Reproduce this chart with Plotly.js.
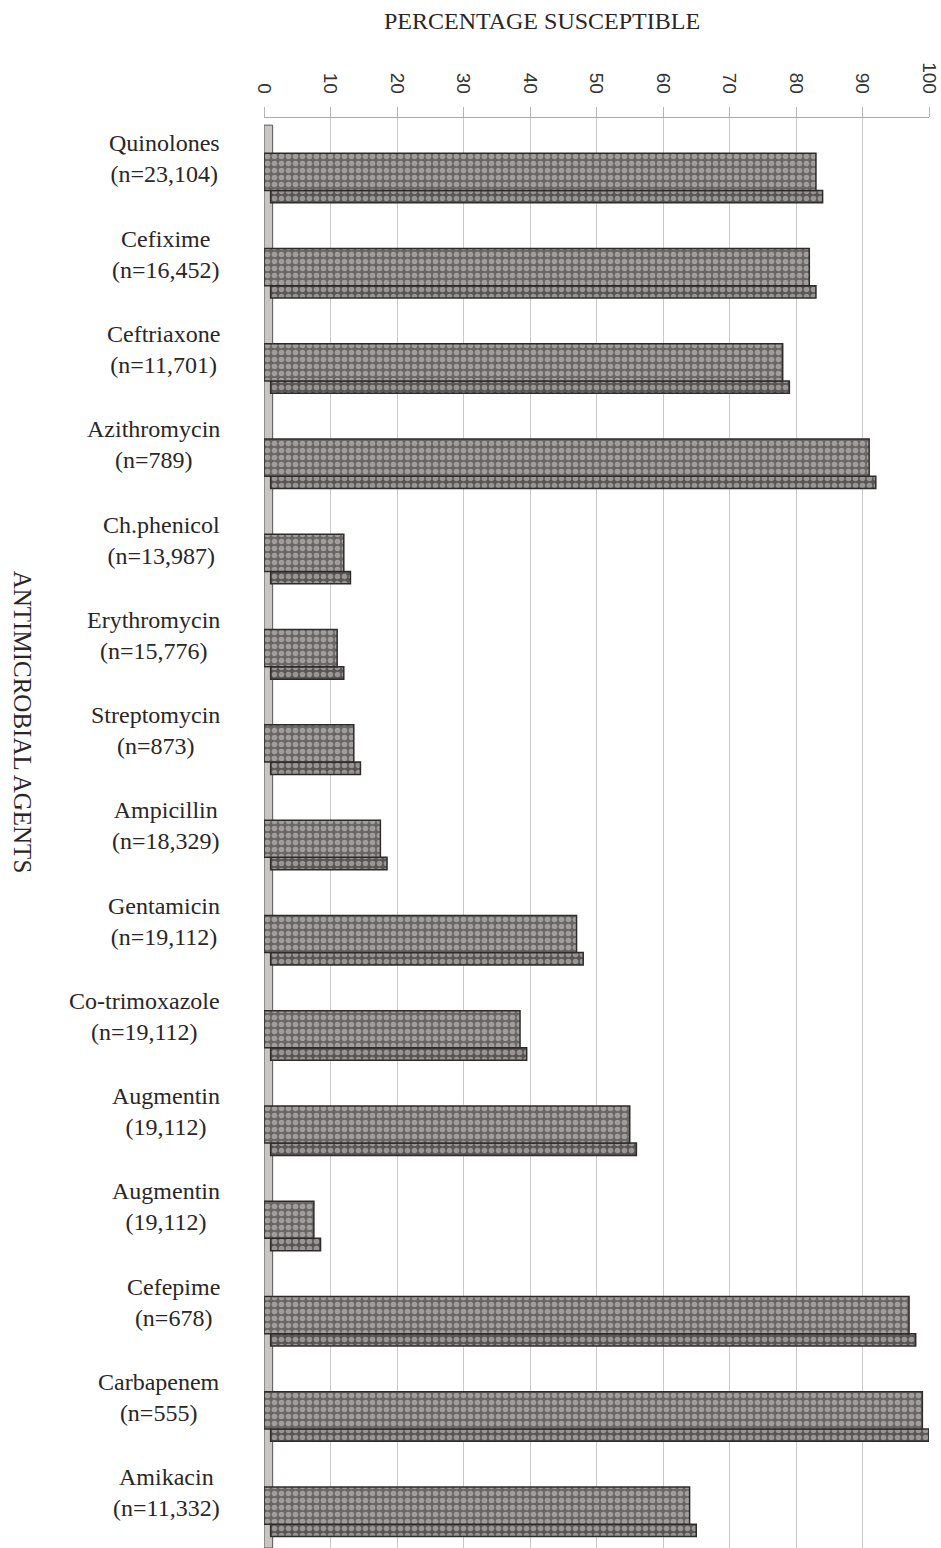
<!DOCTYPE html>
<html>
<head>
<meta charset="utf-8">
<script src="https://cdn.plot.ly/plotly-3.0.1.min.js"></script>
<style>html,body{margin:0;padding:0;background:#fff;}#chart{width:941px;height:1548px;}</style>
</head>
<body>
<div id="chart"></div>
<script>
const agents = ["Quinolones","Cefixime","Ceftriaxone","Azithromycin","Ch.phenicol","Erythromycin","Streptomycin","Ampicillin","Gentamicin","Co-trimoxazole","Augmentin","Augmentin","Cefepime","Carbapenem","Amikacin"];
const counts = ["(n=23,104)","(n=16,452)","(n=11,701)","(n=789)","(n=13,987)","(n=15,776)","(n=873)","(n=18,329)","(n=19,112)","(n=19,112)","(19,112)","(19,112)","(n=678)","(n=555)","(n=11,332)"];
const susceptible = [83,82,78,91,12,11,13.5,17.5,47,38.5,55,7.5,97,99,64];
const xTicks = [0,10,20,30,40,50,60,70,80,90,100];

const idx = agents.map((_, i) => i);
const pat = (bg) => ({shape: ".", bgcolor: bg, fgcolor: "#d9d5d5", size: 7, solidity: 0.5, fillmode: "overlay"});

const front = {
  type: "bar", orientation: "h", x: susceptible, y: idx,
  width: 0.39, offset: -0.26,
  marker: {color: "#6a6565", pattern: pat("#6a6565"), line: {color: "#2f2b2b", width: 1.5}},
  hoverinfo: "x"
};
const depth = {
  type: "bar", orientation: "h", x: susceptible, y: idx, base: 1,
  width: 0.13, offset: 0.13,
  marker: {color: "#5a5555", pattern: pat("#5a5555"), line: {color: "#2f2b2b", width: 1.5}},
  hoverinfo: "skip"
};

const labelAnn = agents.map((a, i) => ({
  xref: "paper", yref: "y", x: -0.063, y: i - 0.2,
  text: a + "<br>" + counts[i], showarrow: false, align: "center",
  xanchor: "right", yanchor: "middle",
  font: {family: "Liberation Serif, Times New Roman, serif", size: 24, color: "#2a2626"}
}));

const layout = {
  width: 941, height: 1548,
  paper_bgcolor: "#ffffff", plot_bgcolor: "#ffffff",
  margin: {l: 264, r: 12, t: 118, b: 0},
  barmode: "overlay", showlegend: false,
  title: {
    text: "PERCENTAGE SUSCEPTIBLE", x: 0.576, xanchor: "center", xref: "container",
    y: 0.987, yanchor: "middle",
    font: {family: "Liberation Serif, Times New Roman, serif", size: 24, color: "#2a2626"}
  },
  xaxis: {
    side: "top", range: [0, 100], tickvals: xTicks, ticktext: xTicks.map(String),
    tickangle: 90, showgrid: true, gridcolor: "#c9c9c9", gridwidth: 1,
    showline: true, linecolor: "#a9a9a9", linewidth: 1.5, zeroline: false,
    ticks: "outside", ticklen: 10, tickcolor: "#b5b5b5", tickwidth: 1,
    ticklabelstandoff: 6, ticklabeloverflow: "allow",
    tickfont: {family: "Liberation Sans, Arial, sans-serif", size: 19, color: "#333"}
  },
  yaxis: {
    range: [14.38, -0.63], showticklabels: false, showgrid: false, zeroline: false,
    showline: false, ticks: ""
  },
  shapes: [
    {type: "rect", xref: "x", yref: "paper", x0: 0, x1: 1.3, y0: 0, y1: 0.995,
     fillcolor: "#c9c5c5", line: {color: "#5a5555", width: 1}, layer: "below"}
  ],
  annotations: labelAnn.concat([{
    xref: "paper", yref: "y", x: -0.362, y: 5.71, text: "ANTIMICROBIAL AGENTS",
    textangle: 90, showarrow: false, xanchor: "center", yanchor: "middle",
    font: {family: "Liberation Serif, Times New Roman, serif", size: 25, color: "#2a2626"}
  }])
};

Plotly.newPlot("chart", [depth, front], layout, {displayModeBar: false, staticPlot: true});
</script>
</body>
</html>
